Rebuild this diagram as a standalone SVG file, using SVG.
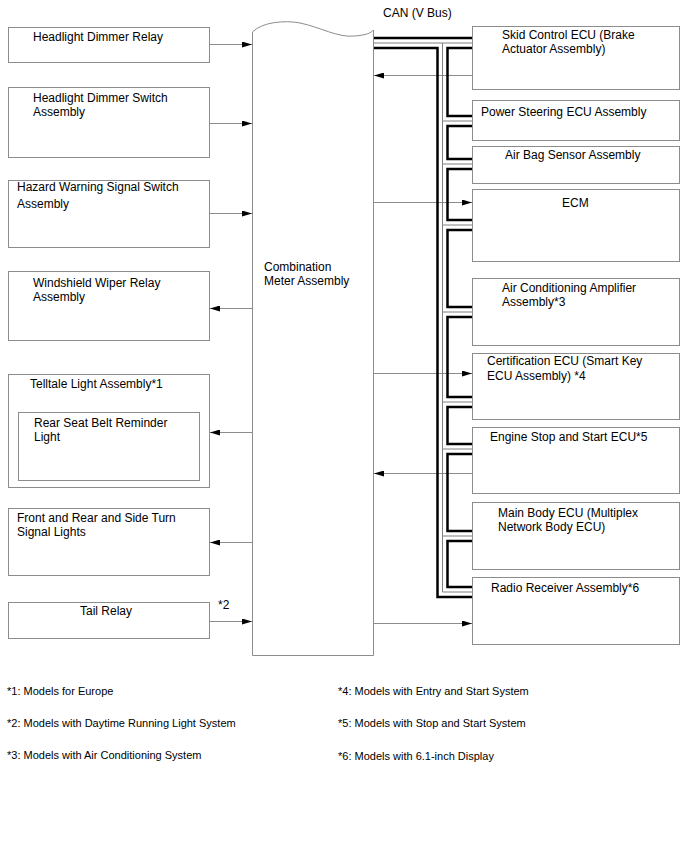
<svg xmlns="http://www.w3.org/2000/svg" width="688" height="852" viewBox="0 0 688 852">
<defs>
<marker id="ah" markerWidth="10" markerHeight="6" refX="10" refY="3" orient="auto" markerUnits="userSpaceOnUse">
<path d="M0,0 L10,3 L0,6 Z" fill="#000"/>
</marker>
<style>
.box{fill:#fff;stroke:#8c8c8c;stroke-width:1}
.t{font-family:"Liberation Sans",Arial,sans-serif;font-size:12px;fill:#000}
.f{font-family:"Liberation Sans",Arial,sans-serif;font-size:11px;fill:#000}
.ar{stroke:#8c8c8c;stroke-width:1;fill:none;marker-end:url(#ah)}
.bk{stroke:#000;stroke-width:2.5;fill:none}
.gr{stroke:#808080;stroke-width:1;fill:none}
</style>
</defs>
<rect width="688" height="852" fill="#fff"/>

<g id="meter">
<path class="box" d="M252.5,32 C262,22 285,20 300,23 C320,27 338,38 355,36 C366,35 371,33 373.5,30 L373.5,655.5 L252.5,655.5 Z"/>
<text class="t" x="264" y="271">Combination</text>
<text class="t" x="264" y="285">Meter Assembly</text>
</g>
<text class="t" x="383" y="17">CAN (V Bus)</text>

<g id="n-l1"><rect class="box" x="8.5" y="27.5" width="201" height="35"/><text class="t" x="33" y="41">Headlight Dimmer Relay</text></g>
<g id="n-l2"><rect class="box" x="8.5" y="87.5" width="201" height="70"/><text class="t" x="33" y="102">Headlight Dimmer Switch</text><text class="t" x="33" y="116">Assembly</text></g>
<g id="n-l3"><rect class="box" x="8.5" y="180.5" width="201" height="67"/><text class="t" x="17" y="191">Hazard Warning Signal Switch</text><text class="t" x="17" y="208">Assembly</text></g>
<g id="n-l4"><rect class="box" x="8.5" y="271.5" width="201" height="69"/><text class="t" x="33" y="287">Windshield Wiper Relay</text><text class="t" x="33" y="301">Assembly</text></g>
<g id="n-l5"><rect class="box" x="8.5" y="374.5" width="201" height="113"/><text class="t" x="30" y="388">Telltale Light Assembly*1</text>
<g id="n-l5a"><rect class="box" x="18.5" y="412.5" width="181" height="68"/><text class="t" x="34" y="427">Rear Seat Belt Reminder</text><text class="t" x="34" y="441">Light</text></g></g>
<g id="n-l6"><rect class="box" x="8.5" y="508.5" width="201" height="67"/><text class="t" x="17" y="522">Front and Rear and Side Turn</text><text class="t" x="17" y="536">Signal Lights</text></g>
<g id="n-l7"><rect class="box" x="8.5" y="602.5" width="201" height="36"/><text class="t" x="80" y="615">Tail Relay</text></g>
<text class="t" x="218" y="609">*2</text>

<g id="n-r1"><rect class="box" x="472.5" y="26.5" width="207" height="63"/><text class="t" x="502" y="39">Skid Control ECU (Brake</text><text class="t" x="502" y="53">Actuator Assembly)</text></g>
<g id="n-r2"><rect class="box" x="472.5" y="100.5" width="207" height="40"/><text class="t" x="481" y="116">Power Steering ECU Assembly</text></g>
<g id="n-r3"><rect class="box" x="472.5" y="146.5" width="207" height="37"/><text class="t" x="505" y="159">Air Bag Sensor Assembly</text></g>
<g id="n-r4"><rect class="box" x="472.5" y="189.5" width="207" height="72"/><text class="t" x="562" y="207">ECM</text></g>
<g id="n-r5"><rect class="box" x="472.5" y="278.5" width="207" height="67"/><text class="t" x="502" y="292">Air Conditioning Amplifier</text><text class="t" x="502" y="306">Assembly*3</text></g>
<g id="n-r6"><rect class="box" x="472.5" y="353.5" width="207" height="66"/><text class="t" x="487" y="365">Certification ECU (Smart Key</text><text class="t" x="487" y="380">ECU Assembly) *4</text></g>
<g id="n-r7"><rect class="box" x="472.5" y="427.5" width="207" height="66"/><text class="t" x="490" y="441">Engine Stop and Start ECU*5</text></g>
<g id="n-r8"><rect class="box" x="472.5" y="502.5" width="207" height="67"/><text class="t" x="498" y="517">Main Body ECU (Multiplex</text><text class="t" x="498" y="531">Network Body ECU)</text></g>
<g id="n-r9"><rect class="box" x="472.5" y="577.5" width="207" height="67"/><text class="t" x="491" y="592">Radio Receiver Assembly*6</text></g>

<g id="connectors">
<path class="ar" d="M210,44.5 H252"/>
<path class="ar" d="M210,123.5 H252"/>
<path class="ar" d="M210,213.5 H252"/>
<path class="ar" d="M252,308.5 H210"/>
<path class="ar" d="M252,432.5 H210"/>
<path class="ar" d="M252,542.5 H210"/>
<path class="ar" d="M210,621.5 H252"/>
<path class="ar" d="M472,75.5 H374"/>
<path class="ar" d="M374,202.5 H472"/>
<path class="ar" d="M374,373.5 H472"/>
<path class="ar" d="M472,473.5 H374"/>
<path class="ar" d="M374,623.5 H472"/>
</g>

<g id="can-bus">
<path class="bk" d="M374,38 H472"/>
<path class="gr" d="M374,43 H472 M442.5,43 V592 H472"/>
<path class="bk" d="M374,48 H437.5 V597 H472"/>
<path class="gr" d="M442.5,121 H472 M442.5,164 H472 M442.5,225 H472 M442.5,312 H472 M442.5,402 H472 M442.5,449 H472 M442.5,536 H472"/>
<path class="bk" d="M472,48 H447.5 V116 H472 M472,126 H447.5 V159 H472 M472,169 H447.5 V220 H472 M472,230 H447.5 V307 H472 M472,317 H447.5 V397 H472 M472,407 H447.5 V444 H472 M472,454 H447.5 V531 H472 M472,541 H447.5 V587 H472"/>
</g>

<g id="notes">
<text class="f" x="7" y="695">*1: Models for Europe</text>
<text class="f" x="7" y="727">*2: Models with Daytime Running Light System</text>
<text class="f" x="7" y="759">*3: Models with Air Conditioning System</text>
<text class="f" x="338" y="695">*4: Models with Entry and Start System</text>
<text class="f" x="338" y="727">*5: Models with Stop and Start System</text>
<text class="f" x="338" y="760">*6: Models with 6.1-inch Display</text>
</g>
</svg>
